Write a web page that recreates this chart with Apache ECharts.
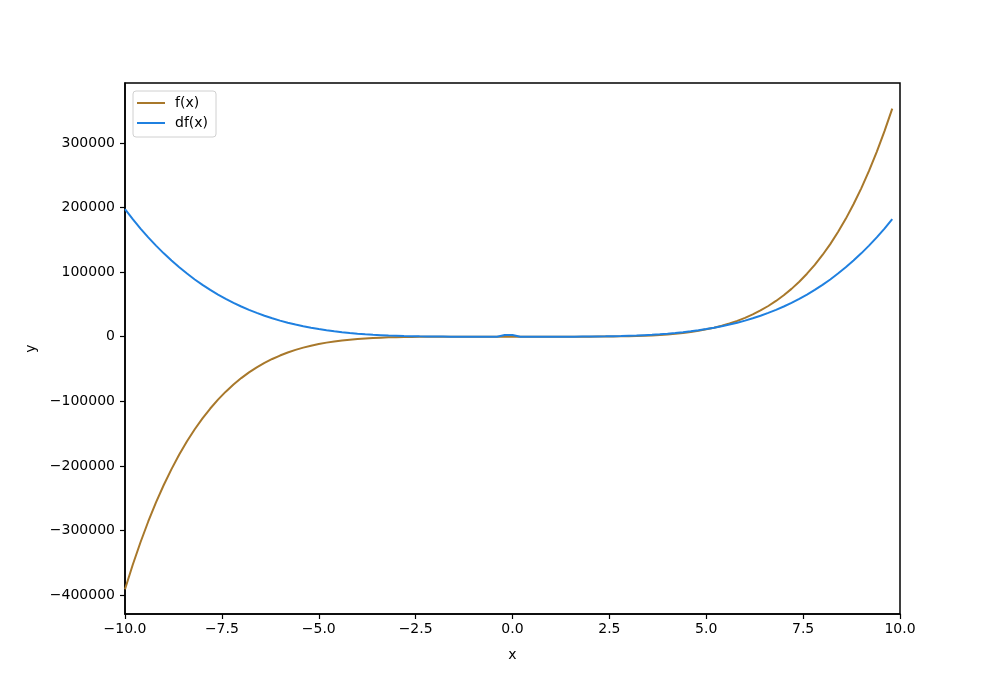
<!DOCTYPE html>
<html>
<head>
<meta charset="utf-8">
<script src="https://cdn.jsdelivr.net/npm/echarts@6/dist/echarts.min.js"></script>
<style>
html,body{margin:0;padding:0;background:#fff;}
#chart{width:1000px;height:700px;}
</style>
</head>
<body>
<div id="chart"></div>
<script>
// x sample positions
const xValues = [
  -10.0,-9.8,-9.6,-9.4,-9.2,-9.0,-8.8,-8.6,-8.4,-8.2,
  -8.0,-7.8,-7.6,-7.4,-7.2,-7.0,-6.8,-6.6,-6.4,-6.2,
  -6.0,-5.8,-5.6,-5.4,-5.2,-5.0,-4.8,-4.6,-4.4,-4.2,
  -4.0,-3.8,-3.6,-3.4,-3.2,-3.0,-2.8,-2.6,-2.4,-2.2,
  -2.0,-1.8,-1.6,-1.4,-1.2,-1.0,-0.8,-0.6,-0.4,-0.2,
  0.0,0.2,0.4,0.6,0.8,1.0,1.2,1.4,1.6,1.8,
  2.0,2.2,2.4,2.6,2.8,3.0,3.2,3.4,3.6,3.8,
  4.0,4.2,4.4,4.6,4.8,5.0,5.2,5.4,5.6,5.8,
  6.0,6.2,6.4,6.6,6.8,7.0,7.2,7.4,7.6,7.8,
  8.0,8.2,8.4,8.6,8.8,9.0,9.2,9.4,9.6,9.8
];
// f(x)
const fValues = [
  -391000,-353100,-318200,-286100,-256600,-229600,-205000,-182400,-162000,-143300,
  -126500,-111200,-97500,-85100,-74000,-64100,-55300,-47500,-40600,-34500,
  -29200,-24500,-20400,-16900,-13900,-11400,-9200,-7400,-5800,-4600,
  -3500,-2700,-2000,-1500,-1000,-730,-490,-320,-190,-110,
  -56,-23,-5,3,6,5,3,2,0,0,
  0,0,0,-2,-3,-5,-6,-3,5,23,
  56,110,190,320,490,730,1000,1500,2000,2700,
  3500,4600,5800,7400,9200,11400,13900,16900,20400,24500,
  29200,34500,40600,47500,55300,64100,74000,85100,97500,111200,
  126500,143300,162000,182400,205000,229600,256600,286100,318200,353100
];
// df(x)
const dfValues = [
  197300,181900,167400,153800,141000,129000,117800,107400,97700,88600,
  80200,72400,65200,58500,52300,46700,41500,36800,32400,28500,
  24900,21700,18800,16200,13900,11800,10000,8400,7000,5700,
  4700,3800,3000,2400,1800,1400,1000,730,510,340,
  210,120,62,24,3,-7,-9,-7,-4,2500,
  2500,-1,-4,-7,-9,-7,3,24,62,120,
  210,340,510,730,1000,1400,1800,2400,3000,3800,
  4700,5700,7000,8400,10000,11800,13900,16200,18800,21700,
  24900,28500,32400,36800,41500,46700,52300,58500,65200,72400,
  80200,88600,97700,107400,117800,129000,141000,153800,167400,181900
];
const xTicks = [-10, -7.5, -5, -2.5, 0, 2.5, 5, 7.5, 10];
const yTicks = [-400000, -300000, -200000, -100000, 0, 100000, 200000, 300000];
const seriesNames = ['f(x)', 'df(x)'];

const font = 'DejaVu Sans';
const minus = s => String(s).replace('-', '\u2212');

const chart = echarts.init(document.getElementById('chart'), null, {renderer: 'canvas'});
chart.setOption({
  animation: false,
  backgroundColor: '#fff',
  grid: {left: 125, right: 100, top: 83, bottom: 86, show: true, borderColor: '#000', borderWidth: 1.5, backgroundColor: 'transparent'},
  legend: {
    left: 133, top: 91, orient: 'vertical',
    data: seriesNames,
    icon: 'rect', itemWidth: 28, itemHeight: 2, itemGap: 6,
    padding: [5, 8, 7, 4],
    borderColor: '#d0d0d0', borderWidth: 1, borderRadius: 3,
    backgroundColor: 'rgba(255,255,255,0.8)',
    textStyle: {fontFamily: font, fontSize: 14, color: '#000', lineHeight: 14, padding: [0, 0, 0, 5]}
  },
  xAxis: {
    type: 'value', min: -10, max: 10,
    name: 'x', nameLocation: 'middle', nameGap: 34,
    nameTextStyle: {fontFamily: font, fontSize: 14, color: '#000'},
    axisLine: {show: true, onZero: false, lineStyle: {color: '#000', width: 1.5}},
    axisTick: {show: true, inside: false, length: 5, lineStyle: {color: '#000', width: 1.2}, customValues: xTicks},
    axisLabel: {fontFamily: font, fontSize: 14, color: '#000', margin: 8, customValues: xTicks,
      formatter: v => minus(v.toFixed(1))},
    splitLine: {show: false}
  },
  yAxis: {
    type: 'value', min: -429300, max: 392700,
    name: 'y', nameLocation: 'middle', nameGap: 87, nameRotate: 90,
    nameTextStyle: {fontFamily: font, fontSize: 14, color: '#000'},
    axisLine: {show: true, onZero: false, lineStyle: {color: '#000', width: 1.5}},
    axisTick: {show: true, inside: false, length: 5, lineStyle: {color: '#000', width: 1.2}, customValues: yTicks},
    axisLabel: {fontFamily: font, fontSize: 14, color: '#000', margin: 10, customValues: yTicks,
      formatter: v => minus(Math.round(v))},
    splitLine: {show: false}
  },
  series: [
    {name: seriesNames[0], type: 'line', showSymbol: false, smooth: false,
     data: xValues.map((x, i) => [x, fValues[i]]),
     lineStyle: {color: '#a8782b', width: 2}, itemStyle: {color: '#a8782b'}},
    {name: seriesNames[1], type: 'line', showSymbol: false, smooth: false,
     data: xValues.map((x, i) => [x, dfValues[i]]),
     lineStyle: {color: '#1f80e0', width: 2}, itemStyle: {color: '#1f80e0'}}
  ]
});
</script>
</body>
</html>
